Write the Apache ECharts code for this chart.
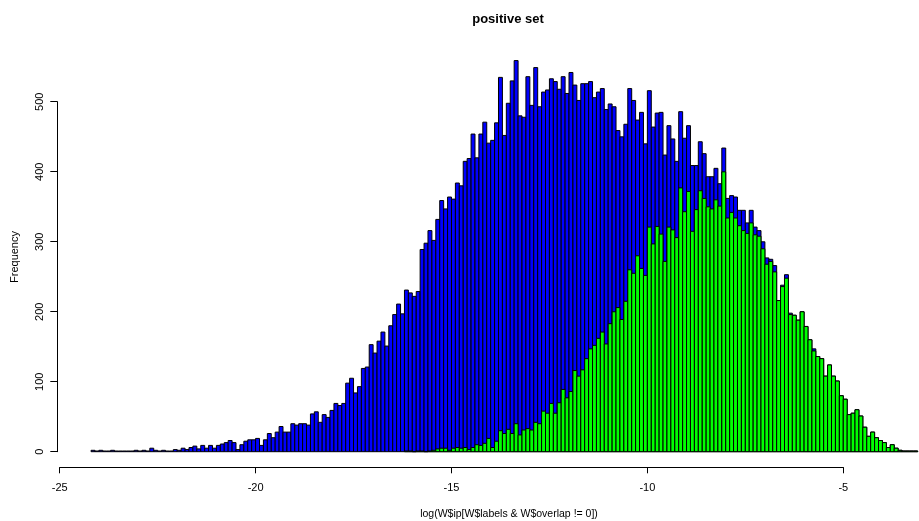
<!DOCTYPE html>
<html>
<head>
<meta charset="utf-8">
<script src="https://cdn.jsdelivr.net/npm/echarts@6/dist/echarts.min.js"></script>
<style>
  html, body { margin: 0; padding: 0; background: #fff; }
  #chart { width: 919px; height: 521px; }
</style>
</head>
<body>
<div id="chart"></div>
<script>
// histogram breaks: bins of 0.1 starting at these left edges
const binWidth = 0.1;
const blueStart = -24.2;
const greenStart = -16.2;

// counts for all values (blue), one per bin
const blueCounts = [
  2, 1, 2, 1, 1, 2, 1, 1, 1, 1, 1, 2, 1, 2, 1, 5, 2, 1, 2, 1,
  1, 3, 2, 5, 3, 6, 8, 4, 9, 5, 9, 5, 9, 11, 13, 16, 13, 3, 10, 15,
  17, 17, 19, 9, 17, 26, 20, 28, 36, 28, 28, 40, 38, 40, 40, 38, 54, 57, 42, 53,
  49, 59, 69, 66, 69, 98, 105, 84, 93, 119, 121, 153, 141, 158, 171, 151, 180, 196, 211, 197,
  231, 227, 222, 229, 289, 298, 316, 302, 332, 359, 347, 364, 361, 384, 380, 415, 419, 454, 420, 454,
  471, 441, 445, 470, 535, 452, 498, 530, 559, 480, 478, 536, 495, 549, 493, 514, 517, 533, 529, 518,
  536, 512, 542, 524, 502, 526, 526, 529, 506, 514, 519, 489, 497, 493, 459, 450, 468, 519, 502, 474,
  485, 440, 516, 464, 484, 485, 424, 466, 447, 415, 486, 448, 466, 409, 409, 443, 426, 393, 393, 405,
  383, 434, 362, 366, 364, 345, 345, 327, 345, 321, 316, 300, 277, 275, 266, 216, 238, 253, 198, 195,
  188, 200, 179, 160, 147, 136, 133, 108, 124, 108, 101, 80, 75, 53, 55, 60, 51, 35, 22, 28,
  20, 16, 13, 6, 10, 5, 2, 1, 1, 1, 1
];

// counts for the subset (green), starting at greenStart
const greenCounts = [
  1, 1, 0, 1, 1, 0, 1, 2, 4, 5, 5, 2, 5, 6, 5, 6, 3, 6, 10, 9,
  12, 19, 6, 15, 30, 26, 32, 26, 40, 24, 31, 33, 31, 42, 40, 58, 55, 69, 55, 70,
  89, 77, 86, 116, 108, 117, 133, 147, 152, 162, 171, 154, 183, 200, 206, 189, 215, 260, 255, 280,
  262, 252, 321, 297, 322, 311, 272, 321, 317, 306, 377, 343, 372, 315, 346, 373, 362, 350, 347, 360,
  351, 400, 334, 342, 334, 323, 316, 312, 327, 310, 308, 290, 268, 272, 257, 216, 236, 248, 196, 195,
  188, 200, 179, 160, 144, 136, 133, 108, 124, 108, 101, 80, 75, 53, 55, 60, 51, 35, 22, 28,
  20, 16, 13, 6, 10, 5, 2, 1, 1, 1, 1
];

const xTicks = [-25, -20, -15, -10, -5];
const yTicks = [0, 100, 200, 300, 400, 500];

function toBins(start, counts) {
  return counts.map((c, i) => {
    const a = +(start + i * binWidth).toFixed(2);
    return [a, +(a + binWidth).toFixed(2), c];
  });
}

function histItem(color) {
  return function (params, api) {
    const p0 = api.coord([api.value(0), 0]);
    const p1 = api.coord([api.value(1), api.value(2)]);
    return {
      type: 'rect',
      shape: {x: p0[0], y: p1[1], width: p1[0] - p0[0], height: p0[1] - p1[1]},
      style: {fill: color, stroke: '#000', lineWidth: 1}
    };
  };
}

const font = 'Liberation Sans, Arial, sans-serif';
const chart = echarts.init(document.getElementById('chart'), null, {renderer: 'canvas'});

chart.setOption({
  animation: false,
  backgroundColor: '#fff',
  grid: [
    // plotting area
    {left: 59.7, width: 858, top: 31.9, bottom: 69.3},
    // x axis, R style (line only between first and last tick)
    {left: 59.7, width: 783.6, top: 400, bottom: 53.7},
    // y axis
    {left: 57.3, width: 100, top: 101.7, bottom: 69.3}
  ],
  xAxis: [
    {gridIndex: 0, type: 'value', min: -25, max: -3.1, show: false},
    {
      gridIndex: 1, type: 'value', min: -25, max: -5, interval: 5,
      axisLine: {lineStyle: {color: '#000', width: 1}},
      axisTick: {length: 6, lineStyle: {color: '#000'}},
      axisLabel: {margin: 15, fontFamily: font, fontSize: 11, color: '#000',
                  customValues: xTicks},
      splitLine: {show: false}
    },
    {gridIndex: 2, type: 'value', show: false}
  ],
  yAxis: [
    {gridIndex: 0, type: 'value', min: 0, max: 600, show: false},
    {gridIndex: 1, type: 'value', show: false},
    {
      gridIndex: 2, type: 'value', min: 0, max: 500, interval: 100,
      axisLine: {show: true, lineStyle: {color: '#000', width: 1}},
      axisTick: {show: true, length: 7, lineStyle: {color: '#000'}},
      axisLabel: {margin: 12, rotate: 90, fontFamily: font, fontSize: 11, color: '#000',
                  customValues: yTicks},
      splitLine: {show: false}
    }
  ],
  graphic: [
    {
      type: 'text', x: 508, y: 19,
      style: {text: 'positive set', font: 'bold 13px ' + font, fill: '#000',
              textAlign: 'center', textVerticalAlign: 'middle'}
    },
    {
      type: 'text', x: 509, y: 514,
      style: {text: 'log(W$ip[W$labels & W$overlap != 0])', font: '10.5px ' + font, fill: '#000',
              textAlign: 'center', textVerticalAlign: 'middle'}
    },
    {
      type: 'text', x: 15, y: 257, rotation: Math.PI / 2,
      style: {text: 'Frequency', font: '11px ' + font, fill: '#000',
              textAlign: 'center', textVerticalAlign: 'middle'}
    }
  ],
  series: [
    {
      type: 'custom', name: 'all', xAxisIndex: 0, yAxisIndex: 0,
      renderItem: histItem('#0000ff'),
      encode: {x: [0, 1], y: 2},
      data: toBins(blueStart, blueCounts)
    },
    {
      type: 'custom', name: 'subset', xAxisIndex: 0, yAxisIndex: 0,
      renderItem: histItem('#00ff00'),
      encode: {x: [0, 1], y: 2},
      data: toBins(greenStart, greenCounts)
    }
  ]
});
</script>
</body>
</html>
